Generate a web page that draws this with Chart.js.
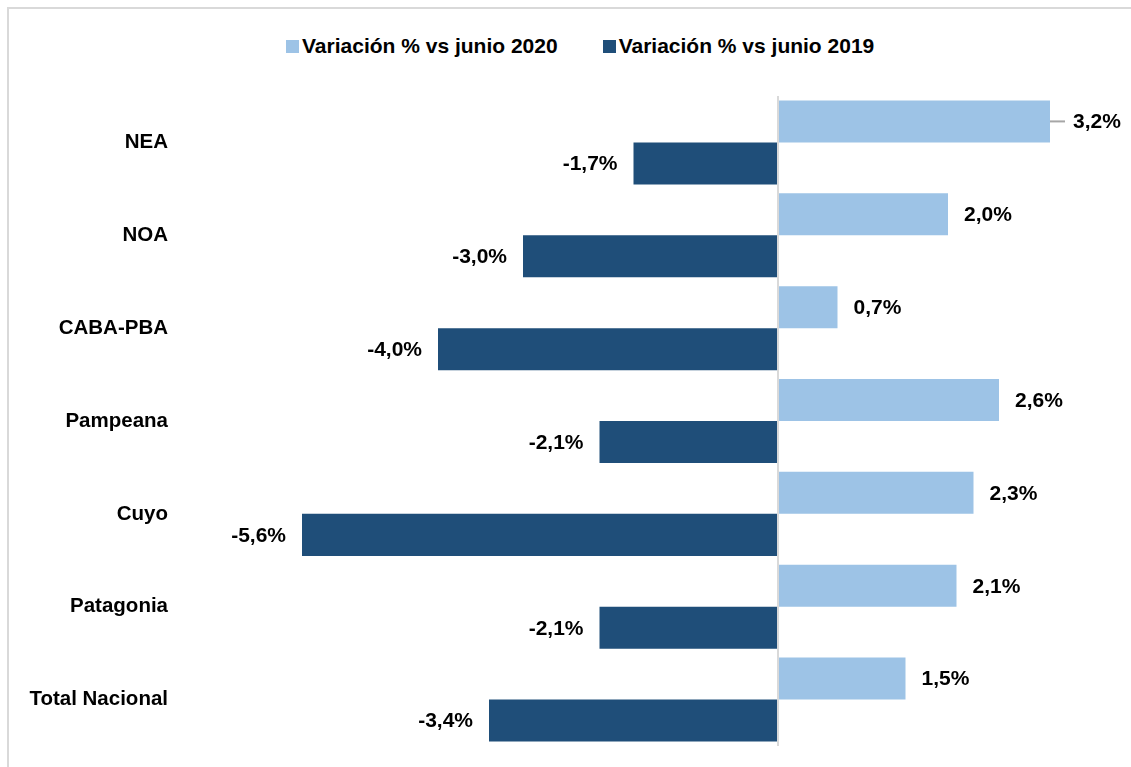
<!DOCTYPE html>
<html lang="es">
<head>
<meta charset="utf-8">
<title>Variación por región</title>
<script src="https://cdn.jsdelivr.net/npm/chart.js@4.4.1/dist/chart.umd.min.js"></script>
<style>
  html, body { margin: 0; padding: 0; background: #fff; overflow: hidden; }
  #wrap { position: relative; width: 1131px; height: 767px; }
  #frame {
    position: absolute; left: 7px; top: 7px; width: 1200px; height: 800px;
    border: 2px solid #d9d9d9; box-sizing: border-box; pointer-events: none;
  }
  #legend {
    position: absolute; left: 286px; top: 34px; display: flex; gap: 45px;
    font: bold 21px "Liberation Sans", Arial, sans-serif; color: #000; line-height: 24px;
  }
  #legend .item { display: flex; align-items: center; white-space: nowrap; }
  #legend .box { width: 13px; height: 13px; margin-right: 3px; }
  canvas { position: absolute; left: 0; top: 0; }
</style>
</head>
<body>
<div id="wrap">
  <div id="frame"></div>
  <div id="legend"></div>
  <canvas id="chart" width="1131" height="767"></canvas>
</div>
<script>
/* Variación % por región: dos series de barras horizontales */

const REGIONS = ["NEA", "NOA", "CABA-PBA", "Pampeana", "Cuyo", "Patagonia", "Total Nacional"];
const SERIES_NAMES = ["Variación % vs junio 2020", "Variación % vs junio 2019"];
const VS_2020 = [3.2, 2.0, 0.7, 2.6, 2.3, 2.1, 1.5];
const VS_2019 = [-1.7, -3.0, -4.0, -2.1, -5.6, -2.1, -3.4];
const COLORS = ["#9dc3e6", "#1f4e79"];

const FAMILY = '"Liberation Sans", Arial, sans-serif';
const CAT_FONT = { family: FAMILY, size: 20.5, weight: "bold" };
const VALUE_FONT = `bold 21px ${FAMILY}`;

function fmt(v) {
  return v.toFixed(1).replace(".", ",") + "%";
}

function fillLegend() {
  const el = document.getElementById("legend");
  el.innerHTML = SERIES_NAMES.map(
    (name, i) =>
      `<span class="item"><span class="box" style="background:${COLORS[i]}"></span>${name}</span>`,
  ).join("");
}

// value labels next to each bar end; the first bar gets a short leader line
const valueLabels = {
  id: "valueLabels",
  afterDatasetsDraw(chart) {
    const ctx = chart.ctx;
    ctx.save();
    ctx.font = VALUE_FONT;
    ctx.fillStyle = "#000";
    ctx.textBaseline = "middle";
    chart.data.datasets.forEach((ds, di) => {
      chart.getDatasetMeta(di).data.forEach((bar, i) => {
        const v = ds.data[i];
        let x = bar.x;
        if (v >= 0) {
          ctx.textAlign = "left";
          if (di === 0 && i === 0) {
            ctx.strokeStyle = "#a6a6a6";
            ctx.lineWidth = 2;
            ctx.beginPath();
            ctx.moveTo(x, bar.y);
            ctx.lineTo(x + 15, bar.y);
            ctx.stroke();
            x += 23;
          } else {
            x += 16;
          }
        } else {
          ctx.textAlign = "right";
          x -= 16;
        }
        ctx.fillText(fmt(v), x, bar.y + 1);
      });
    });
    ctx.restore();
  },
};

function chart() {
  new Chart(document.getElementById("chart"), {
    type: "bar",
    data: {
      labels: REGIONS,
      datasets: [
        { label: SERIES_NAMES[0], data: VS_2020, backgroundColor: COLORS[0] },
        { label: SERIES_NAMES[1], data: VS_2019, backgroundColor: COLORS[1] },
      ],
    },
    options: {
      indexAxis: "y",
      responsive: false,
      animation: false,
      categoryPercentage: 0.905,
      barPercentage: 1,
      layout: { padding: { top: 96, bottom: 21, right: 13, left: 0 } },
      scales: {
        x: {
          min: -7,
          max: 4,
          ticks: { display: false },
          border: { display: false },
          grid: {
            drawTicks: false,
            lineWidth: 2,
            color: (c) => (c.tick && c.tick.value === 0 ? "#d9d9d9" : "rgba(0,0,0,0)"),
          },
          afterFit: (s) => {
            s.height = 0;
            s.paddingLeft = s.paddingRight = 0;
          },
        },
        y: {
          ticks: { color: "#000", font: CAT_FONT, padding: 15 },
          border: { display: false },
          grid: { display: false, drawTicks: false },
          afterFit: (s) => {
            s.width = 183;
            s.paddingTop = s.paddingBottom = 0;
          },
        },
      },
      plugins: {
        legend: { display: false },
        tooltip: { enabled: false },
      },
    },
    plugins: [valueLabels],
  });
}

fillLegend();
chart();
</script>
</body>
</html>
